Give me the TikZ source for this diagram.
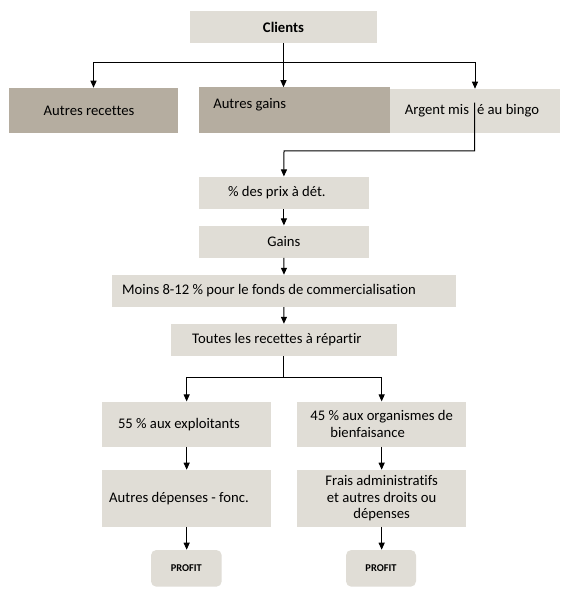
\documentclass[tikz,border=0pt]{standalone}
\usepackage{fontspec}
\setmainfont{Carlito}[Ligatures=NoCommon]
\usetikzlibrary{arrows.meta,calc}
\definecolor{boxlight}{RGB}{224,221,214}
\definecolor{boxdark}{RGB}{181,173,160}
\begin{document}
\begin{tikzpicture}[x=0.75pt,y=-0.75pt,
  every node/.style={font=\fontsize{11}{12.4}\selectfont, inner sep=0pt},
  sz/.style n args={2}{minimum width=#1*0.75pt, minimum height=#2*0.75pt},
  lbox/.style={fill=boxlight, draw=none, align=center},
  dbox/.style={fill=boxdark, draw=none, align=center},
  pbox/.style={fill=boxlight, draw=none, rounded corners=4pt, font=\bfseries\fontsize{7.8}{9}\selectfont},
  conn/.style={line width=0.75pt},
  arr/.style={conn, -{Triangle[length=5.25pt,width=4.5pt]}}]
\fill[white] (0,0) rectangle (572,599);
\useasboundingbox (0,0) rectangle (572,599);
% top
\node[lbox,sz={187}{32},font=\bfseries\fontsize{11}{12.4}\selectfont] (clients) at (283.5,27) {Clients};
\node[dbox,sz={169}{45}] (recettes) at (93.5,110.5) {Autres recettes\hspace*{6.75pt}};
\node[dbox,sz={191}{45.5}] (gains) at (294.5,110.25) {};
\node[anchor=west] (gainstxt) at (213,105) {Autres gains};
\node[lbox,sz={170}{44.3}] (argent) at (475,111.15) {Argent mis\hspace{0.55em}é au bingo\hspace*{4.5pt}};
% middle
\node[lbox,sz={169.7}{32.3}] (prix) at (283.9,192.9) {\% des prix à dét.\hspace*{10.5pt}};
\node[lbox,sz={169.7}{32}] (gainsb) at (283.9,241.7) {Gains};
\node[lbox,sz={343.4}{31.7}] (moins) at (284,290.9) {Moins 8-12 \% pour le fonds de commercialisation\hspace*{22.5pt}};
\node[lbox,sz={225.7}{31.7}] (toutes) at (283.9,339.9) {Toutes les recettes à répartir\hspace*{10.5pt}};
% bottom
\node[lbox,sz={168.7}{45}] (expl) at (186.65,424.2) {55 \% aux exploitants\hspace*{11.5pt}};
\node[lbox,sz={168.7}{45}] (org) at (381.65,424.2) {45 \% aux organismes de\\bienfaisance\hspace*{21pt}};
\node[lbox,sz={168.7}{56.7}] (dep) at (186.65,498.35) {Autres dépenses - fonc.\hspace*{11.5pt}};
\node[lbox,sz={168.7}{56.7}] (frais) at (381.65,498.35) {Frais administratifs\\et autres droits ou\\dépenses};
\node[pbox,sz={70.7}{36.7}] (p1) at (186.35,568.35) {PROFIT};
\node[pbox,sz={70}{36.7}] (p2) at (381,568.35) {PROFIT};
% connectors
\path (clients.south) ++(0,19.3) coordinate (hub);
\draw[conn] (clients.south) -- (hub);
\draw[arr] (hub) -| (recettes.north);
\draw[arr] (hub) -| (argent.north);
\draw[arr] (hub) -- (hub |- gains.north);
\coordinate (tap) at (474.7,102.7);
\coordinate (bend) at (284,151);
\draw[arr] (tap) |- (bend) -- (prix.north);
\draw[arr] (prix) -- (gainsb);
\draw[arr] (gainsb) -- (moins);
\draw[arr] (moins) -- (toutes);
\path (toutes.south) ++(0,21) coordinate (split);
\draw[conn] (toutes.south) -- (split);
\draw[arr] (split) -| (expl.north);
\draw[arr] (split) -| (org.north);
\draw[arr] (expl) -- (dep);
\draw[arr] (org) -- (frais);
\draw[arr] (dep.south) -- (dep.south |- p1.north);
\draw[arr] (frais.south) -- (frais.south |- p2.north);
\end{tikzpicture}
\end{document}
